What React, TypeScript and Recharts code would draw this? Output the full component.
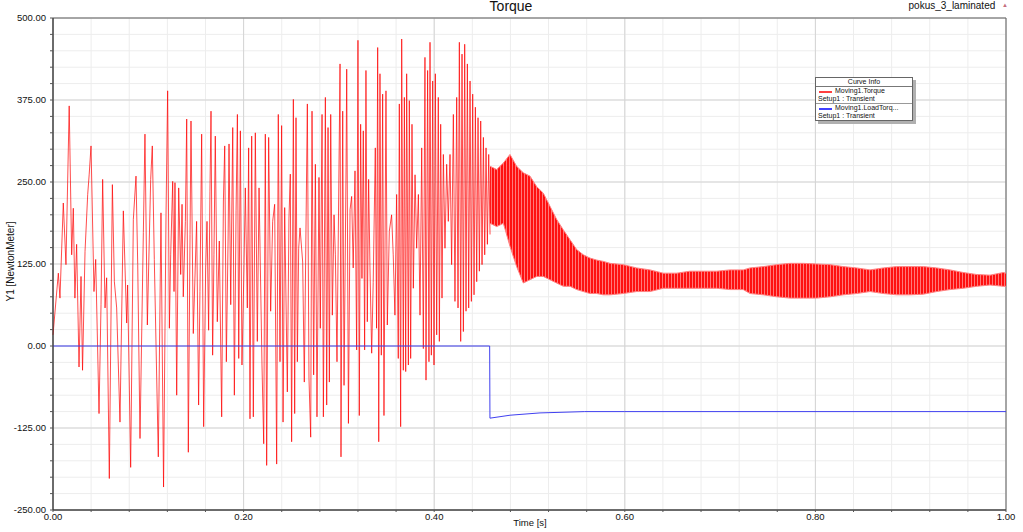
import React from 'react';
import { Area, CartesianGrid, ComposedChart, Line, ReferenceArea, XAxis, YAxis } from 'recharts';

// Moving1.Torque, single swings that can be told apart: [time s, torque NewtonMeter]
const torqueStart: [number, number][] = [
  [0.0, 17], [0.0056, 111], [0.0073, 73], [0.0108, 218], [0.0136, 124], [0.017, 366], [0.0196, 139],
  [0.0213, 210], [0.023, 73], [0.0248, 155], [0.0273, -32], [0.0294, 106], [0.031, -37], [0.0336, 144],
  [0.0364, 231], [0.038, 262], [0.0399, 305], [0.043, 83], [0.0448, 132], [0.0483, -103], [0.0504, 63],
  [0.0521, 254], [0.0546, 58], [0.0563, 104], [0.0591, -202], [0.0623, 246], [0.0644, 98], [0.0668, 58],
  [0.0703, -116], [0.0738, 206], [0.0773, 35], [0.0783, 93], [0.0815, -185], [0.0843, 193], [0.0871, 259],
  [0.0889, 124], [0.0913, -141], [0.0948, 173], [0.0965, 323], [0.099, 32], [0.1025, 254], [0.1042, 305],
  [0.1063, 132], [0.1105, -169], [0.1133, 203], [0.116, -215],
];

const torqueMid: [number, number][] = [
  [0.1186, 200], [0.1203, 389], [0.1221, 27], [0.1235, 139], [0.1256, 251], [0.127, 83], [0.128, 249],
  [0.1298, -75], [0.1319, 241], [0.134, 109], [0.1354, 216], [0.1367, 75], [0.1389, 190], [0.1403, 346],
  [0.142, -162], [0.1438, 170], [0.1448, 343], [0.1472, 19], [0.1507, 190], [0.1528, -90], [0.1542, 83],
  [0.156, 323], [0.1581, -123], [0.1602, 119], [0.1616, 190], [0.1633, 24], [0.1647, 236], [0.1658, 358],
  [0.1675, -14], [0.1689, 139], [0.1703, 320], [0.1724, 37], [0.1745, 160], [0.177, -108], [0.1788, 221],
  [0.1802, 305], [0.1819, -24], [0.1837, 160], [0.1847, 308], [0.1865, 63], [0.1886, 333], [0.1903, -75],
  [0.1921, 206], [0.1935, 353], [0.1949, -19], [0.1966, 328], [0.1983, -29], [0.2004, 119], [0.2018, 241],
  [0.2039, 58], [0.2053, 302], [0.2067, -111], [0.2085, 320], [0.2102, -108], [0.2123, 325], [0.2144, 7],
  [0.2162, 241], [0.2193, -29], [0.2211, -149], [0.2228, 323], [0.2242, -182], [0.2263, 318], [0.2284, 53],
  [0.2305, 190], [0.2326, 216],
];

const torqueLate: [number, number][] = [
  [0.2347, -180], [0.2364, 353], [0.2382, -24], [0.2399, 336], [0.2414, -116], [0.2431, 211], [0.2459, -70],
  [0.2476, 195], [0.249, 262], [0.2504, -146], [0.2522, 376], [0.2536, -103], [0.255, 348], [0.2564, -24],
  [0.2578, 149], [0.2592, 180], [0.262, 128], [0.2637, -55], [0.2669, 369], [0.2686, -49], [0.2704, -139],
  [0.2718, 358], [0.2735, -44], [0.2753, 277], [0.277, -108], [0.2791, 257], [0.2805, 27], [0.2823, 353],
  [0.2837, -108], [0.2858, 379], [0.2872, -90], [0.2886, 333], [0.29, -55], [0.2914, 353], [0.2931, 47],
  [0.2949, 200], [0.2963, 139], [0.298, -24], [0.3012, 430], [0.3022, -169], [0.304, 358], [0.3054, -60],
  [0.3075, 272], [0.3082, 422], [0.31, -118], [0.3117, 208], [0.3134, 228], [0.315, 119], [0.3169, 267],
  [0.3186, -6], [0.32, 466], [0.3214, -106], [0.3228, 338], [0.3242, 103], [0.3256, 328], [0.327, -6],
  [0.3284, 420], [0.3298, 37], [0.3312, 254], [0.3326, 119], [0.3344, -11], [0.336, 97], [0.3382, 302],
  [0.3395, 27], [0.3407, 455], [0.3418, -146], [0.3431, 415], [0.3445, -14], [0.3459, 384], [0.3473, -106],
  [0.3494, 389],
];

const torqueBurst: [number, number][] = [
  [0.3508, 32], [0.3529, 175], [0.3553, 200], [0.357, 139], [0.3588, 47], [0.3606, 231], [0.3623, -19],
  [0.3634, 369], [0.3648, -123], [0.3659, 468], [0.3676, -37], [0.3687, 379], [0.3701, -39], [0.3711, 415],
  [0.3729, -29], [0.3739, 374], [0.3753, -19], [0.3767, 338], [0.3781, 88], [0.3799, 261], [0.3816, 149],
  [0.3834, 231], [0.3851, 47], [0.3869, 302], [0.3886, -4], [0.3903, 440], [0.3914, -52], [0.3931, 420],
  [0.3945, -24], [0.3956, 463], [0.397, -14], [0.3984, 404], [0.3998, -29], [0.4012, 415], [0.4026, 17],
  [0.4043, 379], [0.4054, 7], [0.4068, 338], [0.4082, 73], [0.4096, 292], [0.4113, 149], [0.4131, 277],
  [0.4148, 190], [0.4166, 292], [0.4183, 124], [0.4201, 353], [0.4218, 68], [0.4236, 379], [0.425, 58],
  [0.4264, 463], [0.4278, 7], [0.4292, 445], [0.4306, 22], [0.432, 460], [0.4334, 53], [0.4348, 430],
  [0.4362, 58], [0.4376, 404], [0.439, 68], [0.4404, 384], [0.4418, 78], [0.4432, 364], [0.4446, 98],
  [0.446, 348], [0.4474, 114], [0.4488, 343], [0.4502, 124], [0.4516, 318], [0.453, 139], [0.4544, 302],
  [0.4558, 155], [0.4572, 292], [0.4586, 170],
];

// Moving1.Torque after the load step: the ripple is too dense to split, so low / high envelope
const bandTime = [
  0.4586, 0.4656, 0.4726, 0.4795, 0.4865, 0.4935, 0.5005, 0.5075, 0.5145, 0.5215, 0.5285, 0.5355, 0.5425,
  0.5495, 0.5565, 0.5635, 0.5705, 0.5775, 0.5845, 0.5984, 0.6124, 0.6264, 0.6404, 0.6544, 0.6684, 0.6824,
  0.6964, 0.7103, 0.7243, 0.7314, 0.7454, 0.7594, 0.7734, 0.7874, 0.8013, 0.8153, 0.8293, 0.8433, 0.8573,
  0.8713, 0.8853, 0.8993, 0.9133, 0.9273, 0.9412, 0.9552, 0.9692, 0.9832, 0.9972, 1.0,
];
const bandLow = [
  187, 182, 187, 152, 121, 96, 101, 106, 106, 101, 96, 91, 91, 86, 83, 80, 80, 78, 78, 80, 83, 83, 88, 88,
  88, 88, 88, 86, 86, 80, 78, 75, 73, 73, 73, 75, 78, 80, 83, 80, 78, 78, 79, 83, 86, 88, 91, 93, 91, 91,
];
const bandHigh = [
  274, 269, 279, 292, 274, 264, 259, 243, 233, 213, 193, 177, 162, 147, 139, 134, 131, 129, 126, 124, 119,
  116, 111, 111, 114, 114, 114, 116, 116, 119, 121, 124, 126, 126, 125, 124, 121, 119, 116, 119, 121, 121,
  121, 119, 116, 112, 109, 108, 112, 111,
];

// Moving1.LoadTorque
const loadTime = [0, 0.4582, 0.4585, 0.4796, 0.511, 0.558, 0.6, 1.0];
const loadValue = [0, 0, -110, -105.5, -102, -100, -100, -100];

const xMajor = [0, 0.2, 0.4, 0.6, 0.8, 1];
const xMinor = Array.from({ length: 26 }, (_, i) => (i * 4) / 100);
const yMajor = [-250, -125, 0, 125, 250, 375, 500];
const yMinor = Array.from({ length: 31 }, (_, i) => -250 + i * 25);

const torqueLine = [...torqueStart, ...torqueMid, ...torqueLate, ...torqueBurst].map(([t, v]) => ({ t, v }));
const torqueBand = bandTime.map((t, i) => ({ t, band: [bandLow[i], bandHigh[i]] }));
const loadLine = loadTime.map((t, i) => ({ t, v: loadValue[i] }));

const font = 'Arial, "Liberation Sans", sans-serif';

const App = () => {
  return (
    <div style={styles.page}>
      {/* striped fill so the dense ripple band keeps some texture */}
      <svg width={0} height={0} style={{ position: 'absolute' }}>
        <defs>
          <pattern id="ripple" patternUnits="userSpaceOnUse" width={3} height={6}>
            <rect x={0} y={0} width={3} height={6} fill="#ff7878" />
            <rect x={0} y={0} width={2} height={6} fill="#ff1010" />
          </pattern>
        </defs>
      </svg>
      <ComposedChart width={1023} height={532} margin={{ top: 18, right: 17, bottom: 0, left: 0 }}>
        <CartesianGrid stroke="#ededed" horizontalValues={yMinor} verticalValues={xMinor} />
        <CartesianGrid stroke="#d4d4d4" horizontalValues={yMajor} verticalValues={xMajor} />
        <XAxis
          dataKey="t"
          type="number"
          domain={[0, 1]}
          ticks={xMinor}
          allowDuplicatedCategory={false}
          height={22}
          tickSize={2}
          tickMargin={1}
          axisLine={{ stroke: '#333' }}
          tickLine={{ stroke: '#555' }}
          tick={{ fontSize: 9.5, fill: '#111', fontFamily: font }}
          tickFormatter={(v: number) => (xMajor.includes(v) ? v.toFixed(2) : '')}
        />
        <YAxis
          type="number"
          domain={[-250, 500]}
          ticks={yMinor}
          width={53}
          tickSize={3}
          tickMargin={4}
          axisLine={{ stroke: '#333' }}
          tickLine={{ stroke: '#555' }}
          tick={{ fontSize: 9.5, fill: '#111', fontFamily: font }}
          tickFormatter={(v: number) => (yMajor.includes(v) ? v.toFixed(2) : '')}
        />
        <ReferenceArea x1={0} x2={1} y1={-250} y2={500} fill="none" stroke="#666" />
        <Area
          data={torqueBand}
          dataKey="band"
          type="linear"
          stroke="#ff8080"
          strokeWidth={1}
          fill="url(#ripple)"
          fillOpacity={1}
          dot={false}
          activeDot={false}
          isAnimationActive={false}
        />
        <Line
          data={torqueLine}
          dataKey="v"
          type="linear"
          stroke="#ff0000"
          strokeOpacity={0.7}
          strokeWidth={1}
          dot={false}
          activeDot={false}
          isAnimationActive={false}
        />
        <Line
          data={loadLine}
          dataKey="v"
          type="linear"
          stroke="#4040f0"
          strokeWidth={1}
          dot={false}
          activeDot={false}
          isAnimationActive={false}
        />
      </ComposedChart>

      <div style={styles.title}>Torque</div>
      <div style={styles.project}>
        pokus_3_laminated <span style={styles.triangle}>▲</span>
      </div>
      <div style={styles.yLabel}>Y1 [NewtonMeter]</div>
      <div style={styles.xLabel}>Time [s]</div>

      {/* Curve Info box */}
      <div style={styles.legend}>
        <div style={styles.legendHead}>Curve Info</div>
        <div style={{ ...styles.swatch, top: 13, background: '#ff4040' }} />
        <div style={{ ...styles.legendText, left: 19, top: 9 }}>Moving1.Torque</div>
        <div style={{ ...styles.legendText, left: 2, top: 17 }}>Setup1 : Transient</div>
        <div style={styles.legendSep} />
        <div style={{ ...styles.swatch, top: 30, background: '#4040ff' }} />
        <div style={{ ...styles.legendText, left: 19, top: 26 }}>Moving1.LoadTorq...</div>
        <div style={{ ...styles.legendText, left: 2, top: 34 }}>Setup1 : Transient</div>
      </div>
    </div>
  );
};

const styles: { [k: string]: React.CSSProperties } = {
  page: { position: 'absolute', left: 0, top: 0, width: 1023, height: 532, background: '#fff', fontFamily: font },
  title: { position: 'absolute', left: 411, top: -2, width: 200, textAlign: 'center', fontSize: 14, color: '#111' },
  project: { position: 'absolute', right: 15, top: 0, fontSize: 10, color: '#111', whiteSpace: 'nowrap' },
  triangle: { color: '#c46e7e', fontSize: 6, position: 'relative', top: -2, marginLeft: 4 },
  yLabel: {
    position: 'absolute',
    left: -90,
    top: 256,
    width: 200,
    textAlign: 'center',
    fontSize: 10,
    color: '#111',
    transform: 'rotate(-90deg)',
  },
  xLabel: { position: 'absolute', left: 430, top: 517, width: 200, textAlign: 'center', fontSize: 9.5, color: '#111' },
  legend: {
    position: 'absolute',
    left: 815,
    top: 77,
    width: 96,
    height: 42,
    border: '1px solid #666',
    background: '#fff',
    boxShadow: '3px 3px 0 #b0b0b0',
    fontSize: 7,
    lineHeight: '8px',
    color: '#111',
  },
  legendHead: { textAlign: 'center', height: 8, lineHeight: '8px', borderBottom: '1px solid #777' },
  legendSep: { position: 'absolute', left: 0, right: 0, top: 25, borderTop: '1px solid #999' },
  swatch: { position: 'absolute', left: 3, width: 13, height: 1.5 },
  legendText: { position: 'absolute', whiteSpace: 'nowrap' },
};

export default App;
